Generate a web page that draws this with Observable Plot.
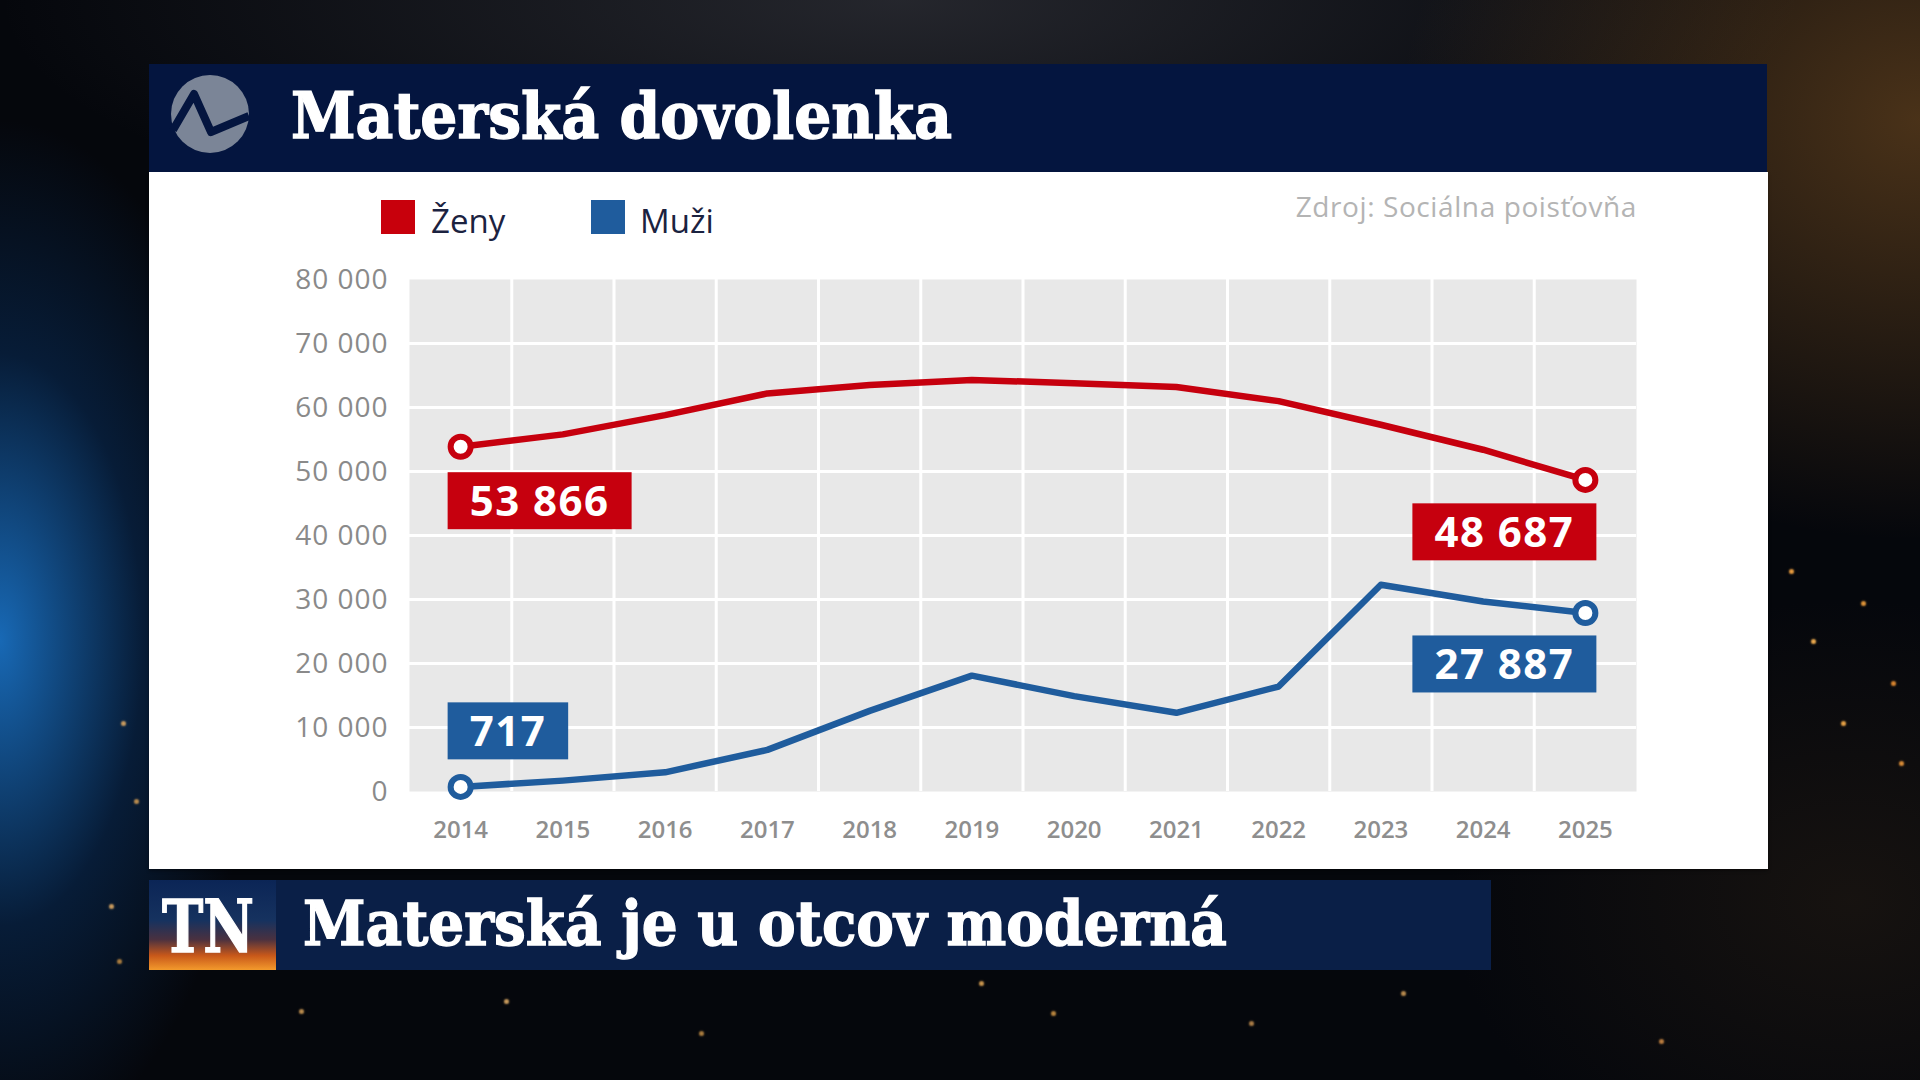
<!DOCTYPE html>
<html>
<head>
<meta charset="utf-8">
<script src="https://cdn.jsdelivr.net/npm/d3@7"></script>
<script src="https://cdn.jsdelivr.net/npm/@observablehq/plot@0.6"></script>
<style>
  html, body { margin: 0; padding: 0; }
  body {
    width: 1920px; height: 1080px; overflow: hidden; position: relative;
    background:
      radial-gradient(ellipse 260px 520px at 0px 640px, rgba(25,110,190,0.95), rgba(10,60,120,0.4) 55%, transparent 100%),
      radial-gradient(ellipse 520px 420px at 1920px 120px, rgba(130,85,35,0.55), transparent 100%),
      radial-gradient(ellipse 900px 260px at 900px 0px, rgba(110,110,120,0.30), transparent 100%),
      radial-gradient(ellipse 400px 300px at 1850px 900px, rgba(40,30,20,0.5), transparent 100%),
      #05070c;
    font-family: "Open Sans", sans-serif;
  }
  .abs { position: absolute; white-space: nowrap; line-height: 1; }
  #header { position: absolute; left: 149px; top: 64px; width: 1618px; height: 108px; background: #04153f; }
  #panel { position: absolute; left: 149px; top: 172px; width: 1619px; height: 697px; background: #ffffff;
           box-shadow: 0 2px 3px rgba(0,0,0,0.35); }
  #banner { position: absolute; left: 276px; top: 880px; width: 1215px; height: 90px; background: #0a1f47; }
  #tn { position: absolute; left: 149px; top: 880px; width: 127px; height: 90px;
        background: linear-gradient(180deg, #0b2556 0%, #16325f 45%, #4a3140 66%, #c8581a 84%, #f39a2c 100%); }
  .serif { font-family: "DejaVu Serif", serif; font-weight: 700; color: #ffffff; transform-origin: 0 0;
           -webkit-text-stroke: 1.4px #ffffff; }
  .sq { position: absolute; width: 34px; height: 34px; }
  .leg { font-size: 33px; color: #1b2240; }
  #sparks { position: absolute; left: 0; top: 0; width: 3px; height: 3px; border-radius: 50%; background: transparent; }
  #chart { position: absolute; left: 149px; top: 251px; }
</style>
</head>
<body>
<div id="sparks"></div>
<div id="header">
  <svg width="120" height="108" style="position:absolute;left:0;top:0">
    <circle cx="61" cy="50" r="39" fill="#7b8597"></circle>
    <path d="M24 66 L45 30 L62 68 L100 52" fill="none" stroke="#04153f" stroke-width="8" stroke-linejoin="round"></path>
  </svg>
</div>
<div class="abs serif" id="title" style="left:291px;top:85px;font-size:63px;">Materská dovolenka</div>
<div id="panel"></div>
<div class="sq" style="left:381px;top:200px;background:#c8000c;"></div>
<div class="abs leg" style="left:431px;top:204px;">Ženy</div>
<div class="sq" style="left:591px;top:200px;background:#1f5c9d;"></div>
<div class="abs leg" style="left:640px;top:204px;">Muži</div>
<div class="abs" id="source" style="right:283px;top:192px;font-size:28px;color:#b4b4b4;letter-spacing:0.6px;">Zdroj: Sociálna poisťovňa</div>
<div id="chart"></div>
<div id="tn"></div>
<div class="abs serif" id="tntext" style="left:162px;top:891px;font-size:72px;">TN</div>
<div id="banner"></div>
<div class="abs serif" id="btext" style="left:303px;top:893px;font-size:62px;">Materská je u otcov moderná</div>

<script>
// ---- data ----
const years = [2014, 2015, 2016, 2017, 2018, 2019, 2020, 2021, 2022, 2023, 2024, 2025];
const zeny  = [53866, 55800, 58800, 62200, 63500, 64300, 63800, 63200, 61000, 57300, 53400, 48687];
const muzi  = [717, 1700, 3000, 6500, 12600, 18100, 14900, 12300, 16400, 32300, 29700, 27887];
const seriesNames = ["Ženy", "Muži"];
const seriesColors = ["#c6000e", "#1f5c9d"];
const yTicks = [0, 10000, 20000, 30000, 40000, 50000, 60000, 70000, 80000];

const fmt = d => d3.format(",")(d).replace(/,/g, " ");

const rows = [
  ...years.map((year, i) => ({year, value: zeny[i], series: seriesNames[0]})),
  ...years.map((year, i) => ({year, value: muzi[i], series: seriesNames[1]}))
];
const first = s => rows.filter(d => d.series === s)[0];
const last = s => rows.filter(d => d.series === s).at(-1);
const endpoints = seriesNames.flatMap(s => [first(s), last(s)]);
const gridYears = years.slice(1).map(y => y - 0.5);

const labelSpecs = [
  {datum: first("Ženy"), anchor: "start", dx: 9, dy: 56},
  {datum: last("Ženy"), anchor: "end", dx: -11, dy: 54},
  {datum: first("Muži"), anchor: "start", dx: 9, dy: -54},
  {datum: last("Muži"), anchor: "end", dx: -11, dy: 53}
];
const label = ({datum, anchor, dx, dy}) => Plot.text([datum], {
  x: "year", y: "value", text: d => fmt(d.value),
  textAnchor: anchor, dx, dy,
  fontSize: 42, fontWeight: 700, fill: "white"
});

const chart = Plot.plot({
  width: 1619, height: 609,
  marginLeft: 260, marginRight: 132, marginTop: 28, marginBottom: 69,
  style: {fontFamily: "Open Sans", background: "transparent", overflow: "visible"},
  x: {domain: [years[0] - 0.5, years.at(-1) + 0.5], axis: null},
  y: {domain: [yTicks[0], yTicks.at(-1)], axis: null},
  color: {domain: seriesNames, range: seriesColors},
  marks: [
    Plot.frame({fill: "#e8e8e8", stroke: null}),
    Plot.gridX(gridYears, {stroke: "#ffffff", strokeOpacity: 1, strokeWidth: 3}),
    Plot.gridY(yTicks.slice(1, -1), {stroke: "#ffffff", strokeOpacity: 1, strokeWidth: 3}),
    Plot.axisY(yTicks, {tickSize: 0, tickPadding: 21, tickFormat: fmt, fontSize: 28, color: "#8a8a8a", label: null, dy: 1}),
    Plot.axisX(years, {tickSize: 0, tickPadding: 29, tickFormat: d => String(d), fontSize: 24, fontWeight: 600, color: "#8e8e8e", label: null}),
    Plot.line(rows, {x: "year", y: "value", z: "series", stroke: "series", strokeWidth: 6.5, strokeLinejoin: "round"}),
    Plot.dot(endpoints, {x: "year", y: "value", r: 10, fill: "white", stroke: "series", strokeWidth: 6}),
    ...labelSpecs.map(label)
  ]
});
document.getElementById("chart").append(chart);

// letter spacing for y tick labels
chart.querySelectorAll('g[aria-label="y-axis tick label"] text').forEach(t => t.style.letterSpacing = "1px");

// boxes behind value labels (the only text marks, in labelSpecs order)
const ns = "http://www.w3.org/2000/svg";
const sr = chart.getBoundingClientRect();
const labelGroups = [...chart.querySelectorAll('g[aria-label="text"]')];
labelGroups.forEach((g, i) => {
  const col = seriesColors[seriesNames.indexOf(labelSpecs[i].datum.series)];
  g.querySelectorAll("text").forEach(t => {
    t.style.letterSpacing = "1.5px";
    const r = t.getBoundingClientRect();
    const rect = document.createElementNS(ns, "rect");
    const h = 57;
    rect.setAttribute("x", r.left - sr.left - 22);
    rect.setAttribute("width", r.width + 44);
    rect.setAttribute("y", r.top - sr.top + r.height / 2 - h / 2 + 1);
    rect.setAttribute("height", h);
    rect.setAttribute("fill", col);
    chart.insertBefore(rect, g);
  });
});

// fit serif headline widths
const fit = (id, w) => {
  const el = document.getElementById(id);
  const cw = el.getBoundingClientRect().width;
  el.style.transform = `scaleX(${w / cw})`;
};
fit("title", 661);
fit("btext", 924);
fit("tntext", 92);

// decorative sparkles
const sparkPts = [[1790,570,"#f0a040"],[1862,602,"#e89a3a"],[1812,640,"#f5b050"],[1892,682,"#e08a30"],[1760,652,"#f0a040"],
  [1703,742,"#d88a30"],[1842,722,"#f0a848"],[1900,762,"#e09038"],[1660,1040,"#c08040"],
  [300,1010,"#c09050"],[505,1000,"#d0a060"],[700,1032,"#b08040"],[980,982,"#d09a50"],[1052,1012,"#c08a40"],
  [1250,1022,"#b08048"],[1402,992,"#c09050"],[122,722,"#d0a060"],[135,800,"#c09050"],[110,905,"#d0a060"],[118,960,"#b08040"]];
document.getElementById("sparks").style.boxShadow = sparkPts.map(([x,y,c]) => `${x}px ${y}px 2px 1px ${c}`).join(",");
</script>
</body>
</html>
